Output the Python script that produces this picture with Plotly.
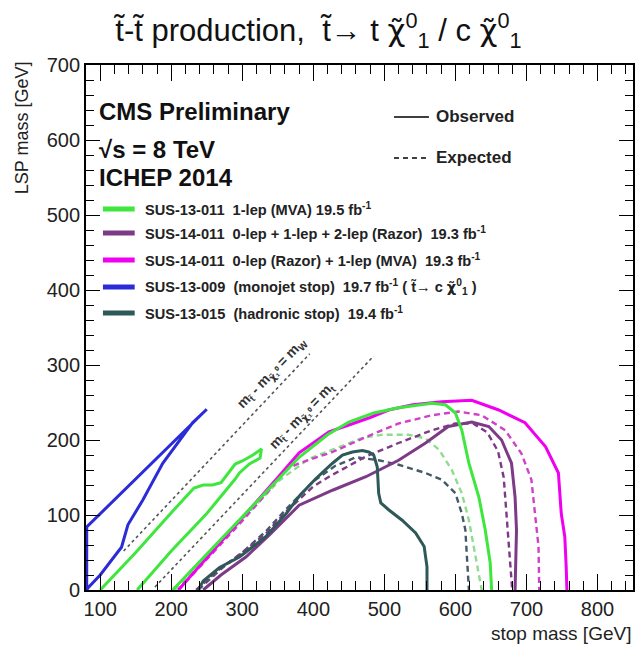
import plotly.graph_objects as go

# ---------------- data (stop mass [GeV], LSP mass [GeV]) ----------------
blue_obs_x = [81, 81, 250, 230, 188, 160, 139, 130, 125, 100, 83, 81]
blue_obs_y = [0, 84, 241, 223, 169, 120, 87, 57, 51, 20, 3, 0]

green_island_x = [100, 150, 200, 226, 232, 245, 258, 270, 280, 290, 300, 315, 327, 325, 310, 296, 290, 250, 200, 152]
green_island_y = [0, 50, 103, 129, 136, 140, 140, 143, 155, 168, 172, 180, 188, 176, 168, 156, 148, 102, 52, 0]

green_obs_x = [202, 250, 300, 352, 380, 420, 450, 485, 520, 567, 586, 600, 609, 619, 633, 642, 649, 651]
green_obs_y = [0, 48, 97, 150, 177, 207, 224, 236, 243, 249, 247, 236, 213, 169, 124, 80, 36, 0]

green_exp_x = [205, 300, 352, 394, 436, 470, 497, 534, 558, 577, 595, 609, 619, 628, 637]
green_exp_y = [0, 94, 146, 175, 191, 203, 207, 207, 202, 187, 160, 129, 93, 49, 0]

magenta_obs_x = [210, 300, 350, 380, 422, 450, 480, 506, 540, 581, 623, 661, 698, 727, 745, 749, 754, 756, 757]
magenta_obs_y = [0, 96, 150, 183, 211, 220, 230, 240, 247, 251, 253, 240, 223, 191, 156, 102, 71, 30, 0]

magenta_exp_x = [210, 300, 340, 360, 380, 427, 474, 520, 567, 604, 637, 670, 693, 707, 712, 717, 718]
magenta_exp_y = [0, 92, 135, 160, 169, 184, 204, 222, 233, 238, 233, 213, 182, 147, 102, 58, 0]

purple_obs_x = [245, 270, 305, 340, 380, 427, 474, 520, 558, 590, 623, 647, 665, 679, 684, 686, 685, 684]
purple_obs_y = [0, 20, 44, 75, 113, 133, 151, 173, 196, 218, 224, 218, 200, 169, 124, 80, 40, 0]

purple_exp_x = [235, 268, 300, 333, 362, 400, 422, 474, 520, 567, 600, 625, 645, 660, 668, 672, 676, 680]
purple_exp_y = [0, 28, 50, 75, 105, 138, 151, 178, 196, 213, 222, 222, 210, 185, 150, 100, 50, 0]

teal_obs_x = [238, 245, 268, 296, 333, 362, 380, 403, 427, 441, 455, 469, 478, 485, 490, 492, 495, 506, 525, 544, 556, 560, 560]
teal_obs_y = [0, 12, 30, 44, 71, 102, 125, 148, 169, 180, 184, 186, 184, 180, 164, 129, 116, 107, 93, 76, 58, 31, 0]

teal_exp_x = [238, 270, 300, 333, 362, 400, 430, 460, 492, 520, 558, 581, 600, 609, 614, 616, 619]
teal_exp_y = [0, 28, 50, 78, 108, 145, 165, 177, 173, 167, 156, 147, 129, 102, 80, 49, 0]

diagW_x = [133, 395]   # m_stop - m_LSP = m_W
diagW_y = [52, 315]
diagT_x = [177, 485]   # m_stop - m_LSP = m_t
diagT_y = [4, 312]

x_ticks = [100, 200, 300, 400, 500, 600, 700, 800]
y_ticks = [0, 100, 200, 300, 400, 500, 600, 700]

CHI = '<span style="font-family:DejaVu Sans">\u03c7\u0303</span>'

legend_labels = [
    "SUS-13-011\u00a0\u00a01-lep (MVA) 19.5 fb<sup>-1</sup>",
    "SUS-14-011\u00a0\u00a00-lep + 1-lep + 2-lep (Razor)\u00a0\u00a019.3 fb<sup>-1</sup>",
    "SUS-14-011\u00a0\u00a00-lep (Razor) + 1-lep (MVA)\u00a0\u00a019.3 fb<sup>-1</sup>",
    "SUS-13-009\u00a0\u00a0(monojet stop)\u00a0\u00a019.7 fb<sup>-1</sup> ( t\u0303\u2192 c " + CHI + "<sup>0</sup><sub>1</sub> )",
    "SUS-13-015\u00a0\u00a0(hadronic stop)\u00a0\u00a019.4 fb<sup>-1</sup>",
]

GREEN = "#3ee63e"
GREEN_L = "#8fdc8f"
PURPLE = "#7d3a86"
MAGENTA = "#f000f0"
MAGENTA_D = "#d040c8"
BLUE = "#2b2bd8"
TEAL = "#2e5959"
TEAL_D = "#445a66"
legend_colors = [GREEN, PURPLE, MAGENTA, BLUE, TEAL]

FONT = "Liberation Sans, Arial, sans-serif"

fig = go.Figure()

def add(x, y, color, width=3, dash="solid"):
    fig.add_trace(go.Scatter(x=x, y=y, mode="lines",
                             line=dict(color=color, width=width, dash=dash),
                             hoverinfo="skip", showlegend=False))

# diagonal reference lines
add(diagW_x, diagW_y, "#555555", 1.6, "dot")
add(diagT_x, diagT_y, "#555555", 1.6, "dot")

# expected (dashed)
add(teal_exp_x, teal_exp_y, TEAL_D, 2.4, "6px,4px")
add(green_exp_x, green_exp_y, GREEN_L, 2.4, "6px,4px")
add(purple_exp_x, purple_exp_y, PURPLE, 2.4, "6px,4px")
add(magenta_exp_x, magenta_exp_y, MAGENTA_D, 2.4, "6px,4px")

# observed (solid)
add(magenta_obs_x, magenta_obs_y, MAGENTA, 3)
add(purple_obs_x, purple_obs_y, PURPLE, 3)
add(teal_obs_x, teal_obs_y, TEAL, 3)
add(green_obs_x, green_obs_y, GREEN, 3)
add(green_island_x, green_island_y, GREEN, 3)
add(blue_obs_x, blue_obs_y, BLUE, 3)

axis_common = dict(
    ticks="inside", tickcolor="black", tickwidth=1.4,
    showline=True, linecolor="black", linewidth=1.8, mirror="allticks",
    showgrid=False, zeroline=False,
    tickfont=dict(family=FONT, size=20, color="#222222"),
)
fig.update_xaxes(range=[80, 850], tickvals=x_ticks, ticklen=16,
                 minor=dict(ticks="inside", ticklen=9, dtick=20, tick0=0,
                            tickcolor="black", tickwidth=1.2, showgrid=False),
                 **axis_common)
fig.update_yaxes(range=[0, 700], tickvals=y_ticks, ticklen=14,
                 minor=dict(ticks="inside", ticklen=8, dtick=20, tick0=0,
                            tickcolor="black", tickwidth=1.2, showgrid=False),
                 **axis_common)

ann = []
# axis titles
ann.append(dict(text="stop mass [GeV]", xref="paper", yref="paper", x=1.0, y=-0.082,
                xanchor="right", yanchor="middle", showarrow=False,
                font=dict(family=FONT, size=19, color="#222222")))
ann.append(dict(text="LSP mass [GeV]", xref="paper", yref="paper", x=-0.117, y=1.01,
                xanchor="center", yanchor="top", textangle=-90, showarrow=False,
                font=dict(family=FONT, size=18, color="#222222")))
# CMS text
for txt, yy in [("CMS Preliminary", 0.912), ("\u221as = 8 TeV", 0.840), ("ICHEP 2014", 0.786)]:
    ann.append(dict(text="<b>" + txt + "</b>", xref="paper", yref="paper", x=0.020, y=yy,
                    xanchor="left", yanchor="middle", showarrow=False,
                    font=dict(family=FONT, size=24, color="#111111")))
# Observed / Expected legend
shapes = []
shapes.append(dict(type="line", xref="paper", yref="paper", x0=0.563, x1=0.627, y0=0.901, y1=0.901,
                   line=dict(color="black", width=1.5)))
shapes.append(dict(type="line", xref="paper", yref="paper", x0=0.563, x1=0.627, y0=0.823, y1=0.823,
                   line=dict(color="black", width=1.5, dash="5px,4px")))
ann.append(dict(text="<b>Observed</b>", xref="paper", yref="paper", x=0.637, y=0.901,
                xanchor="left", yanchor="middle", showarrow=False,
                font=dict(family=FONT, size=17, color="#222222")))
ann.append(dict(text="<b>Expected</b>", xref="paper", yref="paper", x=0.637, y=0.823,
                xanchor="left", yanchor="middle", showarrow=False,
                font=dict(family=FONT, size=17, color="#222222")))
# colour legend
row_y = [0.7257, 0.680, 0.6286, 0.5771, 0.5276]
for lab, col, yy in zip(legend_labels, legend_colors, row_y):
    shapes.append(dict(type="line", xref="paper", yref="paper", x0=0.031, x1=0.089, y0=yy, y1=yy,
                       line=dict(color=col, width=5)))
    ann.append(dict(text="<b>" + lab + "</b>", xref="paper", yref="paper", x=0.104, y=yy,
                    xanchor="left", yanchor="middle", showarrow=False,
                    font=dict(family=FONT, size=14.6, color="#222222")))
# diagonal labels
ann.append(dict(text="<b>m<sub>t\u0303</sub> - m<sub>" + CHI + "\u2081\u2070</sub> = m<sub>W</sub></b>",
                x=342, y=289, xref="x", yref="y", textangle=-46, showarrow=False,
                font=dict(family=FONT, size=14, color="#333333")))
ann.append(dict(text="<b>m<sub>t\u0303</sub> - m<sub>" + CHI + "\u2081\u2070</sub> = m<sub>t</sub></b>",
                x=384, y=232, xref="x", yref="y", textangle=-46, showarrow=False,
                font=dict(family=FONT, size=14, color="#333333")))

fig.update_layout(
    width=637, height=650,
    margin=dict(l=86, r=2, t=65, b=60),
    plot_bgcolor="white", paper_bgcolor="white",
    showlegend=False,
    title=dict(text="t\u0303-t\u0303 production,\u00a0\u00a0t\u0303\u2192 t " + CHI + "<sup>0</sup><sub>1</sub> / c " + CHI + "<sup>0</sup><sub>1</sub>",
               x=0.5, xanchor="center", y=0.953, yanchor="middle",
               font=dict(family=FONT, size=31, color="#111111")),
    annotations=ann, shapes=shapes,
)

fig.write_html("out.html")
